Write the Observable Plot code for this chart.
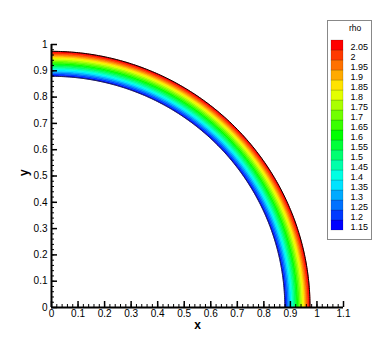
<!DOCTYPE html>
<html><head><meta charset="utf-8">
<script src="https://cdn.jsdelivr.net/npm/d3@7"></script>
<script src="https://cdn.jsdelivr.net/npm/@observablehq/plot@0.6"></script>
<style>
body{margin:0;background:#fff;}
#wrap{position:relative;width:390px;height:347px;font-family:"Liberation Sans",Arial,sans-serif;}
#chart{position:absolute;left:0;top:0;}
#legend{position:absolute;left:327px;top:20px;width:45px;height:220px;border:1px solid #888;background:#fff;box-sizing:border-box;}
#legend .ttl{position:absolute;left:21px;top:2px;font-size:8.5px;line-height:10px;}
#legend svg{position:absolute;left:0;top:0;}
</style></head><body>
<div id="wrap"><div id="chart"></div><div id="legend"><span class="ttl">rho</span></div></div>
<script>
// contour levels of rho (legend)
const rhoLevels = [1.15, 1.2, 1.25, 1.3, 1.35, 1.4, 1.45, 1.5, 1.55, 1.6, 1.65, 1.7, 1.75, 1.8, 1.85, 1.9, 1.95, 2, 2.05];
// radii of band boundaries (inner edge -> outer edge)
const bandBoundaryR = [0.879, 0.884, 0.889, 0.894, 0.899, 0.904, 0.909, 0.914, 0.919, 0.924, 0.929, 0.934, 0.939, 0.944, 0.949, 0.954, 0.959, 0.964, 0.969, 0.974];
// tick labels
const xMajor = [0, 0.1, 0.2, 0.3, 0.4, 0.5, 0.6, 0.7, 0.8, 0.9, 1, 1.1];
const yMajor = [0, 0.1, 0.2, 0.3, 0.4, 0.5, 0.6, 0.7, 0.8, 0.9, 1];

const palette = ["#0000ff","#0039ff","#0071ff","#00aaff","#00e3ff","#00ffe3","#00ffaa","#00ff71","#00ff39","#00ff00",
                 "#39ff00","#71ff00","#aaff00","#e3ff00","#ffe300","#ffaa00","#ff7100","#ff3900","#ff0000"];

const xMinor = d3.range(0, 56).map(i => i * 0.02);
const yMinor = d3.range(0, 51).map(i => i * 0.02);
const theta = d3.range(0, 181).map(i => i / 180 * Math.PI / 2);

const bandPts = rhoLevels.flatMap((rho, i) => {
  const r0 = bandBoundaryR[i], r1 = bandBoundaryR[i + 1];
  return [
    ...theta.map(t => ({band: i, rho, x: r1 * Math.cos(t), y: r1 * Math.sin(t)})),
    ...theta.slice().reverse().map(t => ({band: i, rho, x: r0 * Math.cos(t), y: r0 * Math.sin(t)}))
  ];
});
const rOut = bandBoundaryR[bandBoundaryR.length - 1], rIn = bandBoundaryR[0];
const outerArc = theta.map(t => ({x: rOut * Math.cos(t), y: rOut * Math.sin(t)}));
const innerArc = theta.map(t => ({x: rIn * Math.cos(t), y: rIn * Math.sin(t)}));

const font = "Liberation Sans, Arial, sans-serif";

const chart = Plot.plot({
  width: 390, height: 347,
  marginLeft: 51, marginRight: 47, marginTop: 44, marginBottom: 40,
  style: {fontFamily: font, fontSize: "10px", background: "transparent", color: "#000"},
  x: {domain: [0, 1.1], label: null},
  y: {domain: [0, 1], label: null},
  color: {type: "ordinal", domain: rhoLevels, range: palette},
  marks: [
    Plot.line(bandPts, {x: "x", y: "y", z: "band", fill: "rho", stroke: "rho", strokeWidth: 0.6}),
    Plot.line(outerArc, {x: "x", y: "y", stroke: "#000", strokeWidth: 1}),
    Plot.line(innerArc, {x: "x", y: "y", stroke: "#222", strokeWidth: 0.8}),
    Plot.axisX(xMinor, {tickSize: -3, tickFormat: () => "", label: null}),
    Plot.axisX(xMajor, {tickSize: -6, tickPadding: 8, strokeWidth: 1.5, tickFormat: d => String(d), label: null}),
    Plot.axisY(yMinor, {anchor: "left", tickSize: -3, tickFormat: () => "", label: null}),
    Plot.axisY(yMajor, {anchor: "left", tickSize: -6, tickPadding: 10, strokeWidth: 1.5, tickFormat: d => String(d), label: null}),
    Plot.ruleY([0], {strokeWidth: 2}),
    Plot.ruleX([0], {strokeWidth: 2}),
    Plot.text(["x"], {frameAnchor: "bottom", dy: 21, fontWeight: "bold", fontSize: 12}),
    Plot.text(["y"], {frameAnchor: "left", dx: -27, rotate: -90, fontWeight: "bold", fontSize: 12})
  ]
});
document.getElementById("chart").appendChild(chart);

const legend = Plot.plot({
  width: 43, height: 218,
  marginLeft: 3, marginRight: 28, marginTop: 15, marginBottom: 5,
  style: {fontFamily: font, fontSize: "9px", background: "transparent", color: "#000", overflow: "visible"},
  x: {axis: null, domain: ["s"], padding: 0},
  y: {type: "band", domain: rhoLevels.slice().reverse(), padding: 0, axis: null},
  color: {type: "ordinal", domain: rhoLevels, range: palette},
  marks: [
    Plot.cell(rhoLevels, {x: () => "s", y: d => d, fill: d => d, inset: 0, stroke: "#000", strokeOpacity: 0.3, strokeWidth: 0.5}),
    Plot.axisY({anchor: "right", tickSize: 0, tickPadding: 7, dy: 1.5, tickFormat: d => String(d), label: null})
  ]
});
document.getElementById("legend").appendChild(legend);
</script>
</body></html>
